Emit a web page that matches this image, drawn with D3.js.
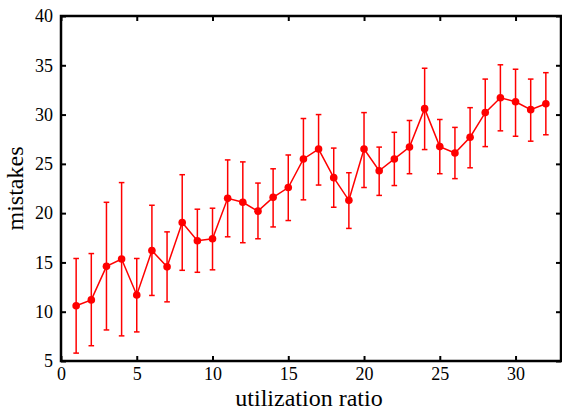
<!DOCTYPE html>
<meta charset="utf-8">
<style>
body { margin: 0; background: #fff; }
.axis text { font: 18px "Liberation Serif", serif; fill: #000; }
.axis line { stroke: #000; stroke-width: 2px; }
.axis path { display: none; }
.label { font: 24px "Liberation Serif", serif; fill: #000; }
</style>
<svg width="562" height="411"></svg>
<script src="https://d3js.org/d3.v7.min.js"></script>
<script>

// utilization ratio values
var ratios = [1, 2, 3, 4, 5, 6, 7, 8, 9, 10, 11, 12, 13, 14, 15, 16,
              17, 18, 19, 20, 21, 22, 23, 24, 25, 26, 27, 28, 29, 30, 31, 32];
// mean mistakes
var means = [10.6, 11.2, 14.6, 15.35, 11.7, 16.2, 14.55, 19.05, 17.2, 17.4, 21.5, 21.1, 20.2, 21.6, 22.6, 25.5,
             26.5, 23.6, 21.3, 26.5, 24.3, 25.5, 26.7, 30.6, 26.75, 26.1, 27.7, 30.2, 31.7, 31.3, 30.5, 31.1];
// error bar ends
var upper = [15.4, 15.9, 21.1, 23.1, 15.4, 20.8, 18.1, 23.9, 20.4, 20.5, 25.4, 25.2, 23.05, 24.5, 25.9, 29.6,
             30.0, 26.6, 24.1, 30.2, 26.7, 28.2, 29.4, 34.7, 29.5, 28.7, 30.7, 33.6, 35.05, 34.6, 33.6, 34.25];
var lower = [5.8, 6.55, 8.15, 7.55, 7.95, 11.65, 11.0, 14.2, 14.0, 14.25, 17.6, 17.0, 17.4, 18.6, 19.25, 21.35,
             22.85, 20.6, 18.45, 22.6, 21.8, 22.8, 24.0, 26.45, 24.0, 23.5, 24.6, 26.75, 28.35, 27.8, 27.3, 27.95];

var xTicks = [0, 5, 10, 15, 20, 25, 30];
var yTicks = [5, 10, 15, 20, 25, 30, 35, 40];

var svg = d3.select("svg");
// plot box (window.top is read-only, so prefixed names)
var pL = 61, pR = 561, pT = 16, pB = 361;

var x = d3.scaleLinear().domain([0, 33]).range([pL, pR]);
var y = d3.scaleLinear().domain([5, 40]).range([pB, pT]);

var pts = ratios.map(function(r, i) {
  return { r: r, m: means[i], hi: upper[i], lo: lower[i] };
});

// axes, ticks pointing inward
svg.append("g").attr("class", "axis")
  .attr("transform", "translate(0," + pB + ")")
  .call(d3.axisBottom(x).tickValues(xTicks).tickSizeInner(-5).tickSizeOuter(0).tickPadding(6));
svg.append("g").attr("class", "axis")
  .attr("transform", "translate(0," + pT + ")")
  .call(d3.axisTop(x).tickValues(xTicks).tickSizeInner(-5).tickSizeOuter(0).tickFormat(""));
svg.append("g").attr("class", "axis")
  .attr("transform", "translate(" + pL + ",0)")
  .call(d3.axisLeft(y).tickValues(yTicks).tickSizeInner(-5).tickSizeOuter(0).tickPadding(8));
svg.append("g").attr("class", "axis")
  .attr("transform", "translate(" + pR + ",0)")
  .call(d3.axisRight(y).tickValues(yTicks).tickSizeInner(-5).tickSizeOuter(0).tickFormat(""));

// error bars
var eb = svg.append("g").attr("stroke", "#ff0000").attr("stroke-width", 1.5);
eb.selectAll(".bar").data(pts).enter().append("line")
  .attr("x1", function(d) { return x(d.r); })
  .attr("x2", function(d) { return x(d.r); })
  .attr("y1", function(d) { return y(d.lo); })
  .attr("y2", function(d) { return y(d.hi); });
eb.selectAll(".capHi").data(pts).enter().append("line")
  .attr("x1", function(d) { return x(d.r) - 2.8; })
  .attr("x2", function(d) { return x(d.r) + 2.8; })
  .attr("y1", function(d) { return y(d.hi); })
  .attr("y2", function(d) { return y(d.hi); });
eb.selectAll(".capLo").data(pts).enter().append("line")
  .attr("x1", function(d) { return x(d.r) - 2.8; })
  .attr("x2", function(d) { return x(d.r) + 2.8; })
  .attr("y1", function(d) { return y(d.lo); })
  .attr("y2", function(d) { return y(d.lo); });

// line + markers
var line = d3.line()
  .x(function(d) { return x(d.r); })
  .y(function(d) { return y(d.m); });
svg.append("path").datum(pts)
  .attr("d", line)
  .attr("fill", "none")
  .attr("stroke", "#ff0000")
  .attr("stroke-width", 1.5);
svg.append("g").selectAll("circle").data(pts).enter().append("circle")
  .attr("cx", function(d) { return x(d.r); })
  .attr("cy", function(d) { return y(d.m); })
  .attr("r", 3.8)
  .attr("fill", "#ff0000");

// frame
svg.append("rect")
  .attr("x", pL).attr("y", pT)
  .attr("width", pR - pL).attr("height", pB - pT)
  .attr("fill", "none").attr("stroke", "#000").attr("stroke-width", 2.5);

// axis titles
svg.append("text").attr("class", "label")
  .attr("x", 309).attr("y", 406)
  .attr("text-anchor", "middle")
  .text("utilization ratio");
svg.append("text").attr("class", "label")
  .attr("transform", "translate(23," + ((pT + pB) / 2) + ") rotate(-90)")
  .attr("text-anchor", "middle")
  .text("mistakes");

</script>
